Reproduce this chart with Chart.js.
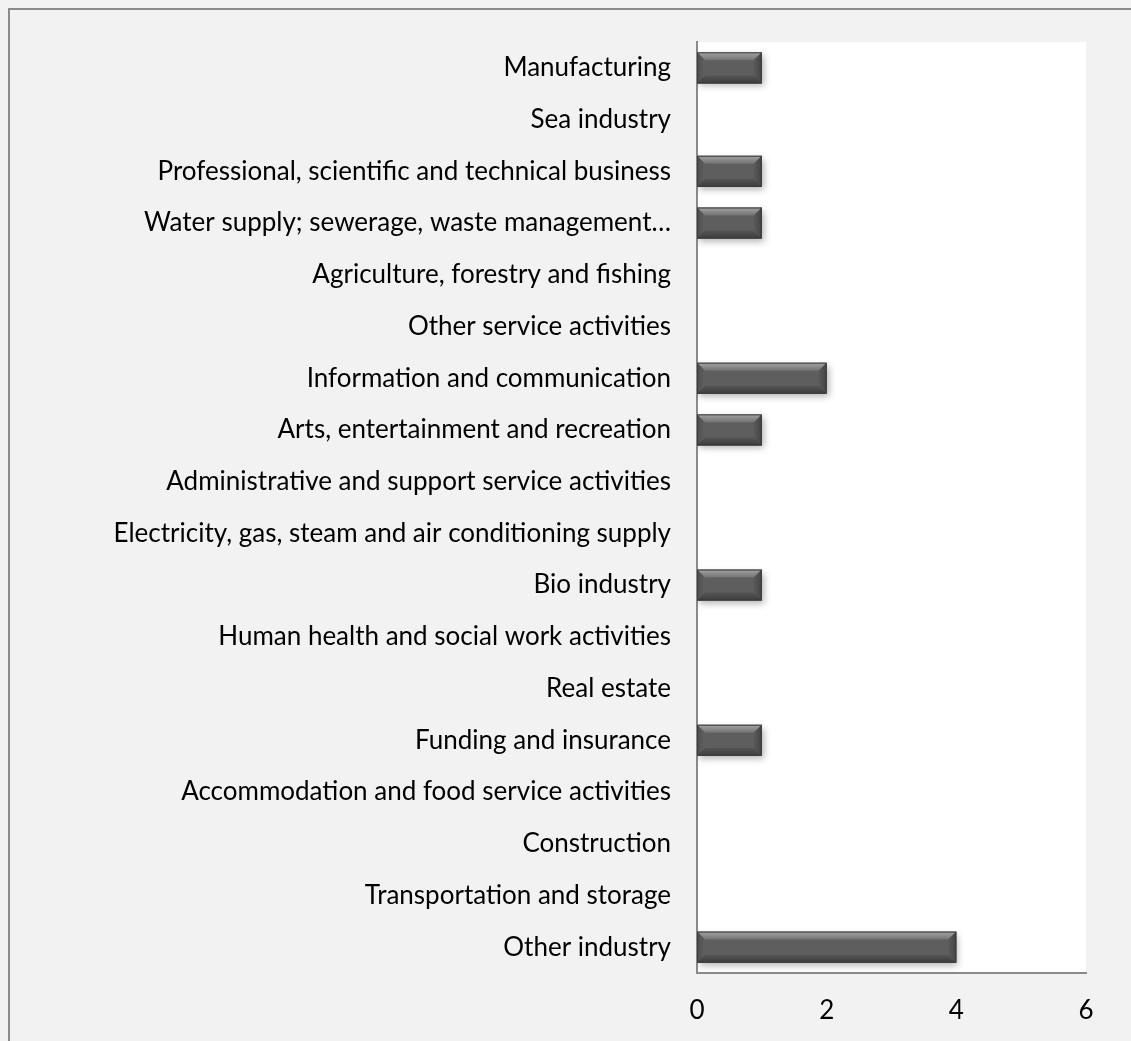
<!DOCTYPE html>
<html>
<head>
<meta charset="utf-8">
<script src="https://cdn.jsdelivr.net/npm/chart.js@4.4.1/dist/chart.umd.min.js"></script>
<style>
  html, body { margin: 0; padding: 0; background: #f2f2f2; }
  #wrap { width: 1131px; height: 1041px; }
</style>
</head>
<body>
<div id="wrap"><canvas id="chart" width="1131" height="1041"></canvas></div>
<script>
const industries = [
  "Manufacturing",
  "Sea industry",
  "Professional, scientific and technical business",
  "Water supply; sewerage, waste management\u2026",
  "Agriculture, forestry and fishing",
  "Other service activities",
  "Information and communication",
  "Arts, entertainment and recreation",
  "Administrative and support service activities",
  "Electricity, gas, steam and air conditioning supply",
  "Bio industry",
  "Human health and social work activities",
  "Real estate",
  "Funding and insurance",
  "Accommodation and food service activities",
  "Construction",
  "Transportation and storage",
  "Other industry"
];
const counts = [1, 0, 1, 1, 0, 0, 2, 1, 0, 0, 1, 0, 0, 1, 0, 0, 0, 4];
const xTicks = [0, 2, 4, 6];

const FONT = "Lato, 'Open Sans', sans-serif";

// grey page, white plot area and the outer frame line
const backdrop = {
  id: "backdrop",
  beforeDraw(chart) {
    const { ctx, chartArea: a, width, height } = chart;
    ctx.save();
    ctx.fillStyle = "#f2f2f2";
    ctx.fillRect(0, 0, width, height);
    ctx.fillStyle = "#ffffff";
    ctx.fillRect(a.left, a.top, a.right - a.left, a.bottom - a.top);
    ctx.strokeStyle = "#8a8a8a";
    ctx.lineWidth = 2;
    ctx.beginPath();
    ctx.moveTo(9, height);
    ctx.lineTo(9, 9);
    ctx.lineTo(width, 9);
    ctx.stroke();
    ctx.restore();
  }
};

// soft drop shadow under the bars
const barShadow = {
  id: "barShadow",
  beforeDatasetDraw(chart) {
    const ctx = chart.ctx;
    ctx.save();
    ctx.shadowColor = "rgba(0,0,0,0.3)";
    ctx.shadowBlur = 7;
    ctx.shadowOffsetX = 2;
    ctx.shadowOffsetY = 3;
  },
  afterDatasetDraw(chart) {
    chart.ctx.restore();
  }
};

// bevelled edges like the office "bevel" bar style
const bevel = {
  id: "bevel",
  afterDatasetsDraw(chart) {
    const ctx = chart.ctx;
    const meta = chart.getDatasetMeta(0);
    meta.data.forEach((bar) => {
      const p = bar.getProps(["x", "y", "base", "height"], true);
      const x0 = Math.min(p.base, p.x), x1 = Math.max(p.base, p.x);
      if (x1 - x0 < 1) return;
      const y0 = p.y - p.height / 2, y1 = p.y + p.height / 2;
      const b = Math.min(8, (x1 - x0) / 2, p.height / 2);
      const poly = (pts, fill) => {
        ctx.beginPath();
        ctx.moveTo(pts[0][0], pts[0][1]);
        for (let i = 1; i < pts.length; i++) ctx.lineTo(pts[i][0], pts[i][1]);
        ctx.closePath();
        ctx.fillStyle = fill;
        ctx.fill();
      };
      ctx.save();
      const gTop = ctx.createLinearGradient(0, y0, 0, y0 + b);
      gTop.addColorStop(0, "#a4a4a4");
      gTop.addColorStop(1, "#727272");
      poly([[x0, y0], [x1, y0], [x1 - b, y0 + b], [x0 + b, y0 + b]], gTop);
      const gLeft = ctx.createLinearGradient(x0, 0, x0 + b, 0);
      gLeft.addColorStop(0, "#4e4e4e");
      gLeft.addColorStop(1, "#606060");
      poly([[x0, y0], [x0 + b, y0 + b], [x0 + b, y1 - b], [x0, y1]], gLeft);
      const gRight = ctx.createLinearGradient(x1 - b, 0, x1, 0);
      gRight.addColorStop(0, "#5a5a5a");
      gRight.addColorStop(1, "#444444");
      poly([[x1, y0], [x1, y1], [x1 - b, y1 - b], [x1 - b, y0 + b]], gRight);
      const gBot = ctx.createLinearGradient(0, y1 - b, 0, y1);
      gBot.addColorStop(0, "#555555");
      gBot.addColorStop(1, "#3c3c3c");
      poly([[x0, y1], [x0 + b, y1 - b], [x1 - b, y1 - b], [x1, y1]], gBot);
      ctx.strokeStyle = "#3a3a3a";
      ctx.lineWidth = 1;
      ctx.strokeRect(x0 + 0.5, y0 + 0.5, x1 - x0 - 1, y1 - y0 - 1);
      ctx.restore();
    });
  }
};

new Chart(document.getElementById("chart"), {
  type: "bar",
  data: {
    labels: industries,
    datasets: [{
      data: counts,
      backgroundColor: "#5e5e5e",
      borderWidth: 0,
      barPercentage: 0.6,
      categoryPercentage: 1.0
    }]
  },
  options: {
    indexAxis: "y",
    responsive: false,
    animation: false,
    layout: { padding: { top: 42, right: 45, left: 0, bottom: 0 } },
    plugins: {
      legend: { display: false },
      tooltip: { enabled: false }
    },
    scales: {
      x: {
        min: 0,
        max: 6,
        afterBuildTicks(axis) {
          axis.ticks = xTicks.map((v) => ({ value: v }));
        },
        afterFit(axis) { axis.height = 68; },
        grid: { display: false, drawTicks: false },
        border: { display: true, color: "#8a8a8a", width: 2 },
        ticks: {
          color: "#000000",
          padding: 22,
          font: { family: FONT, size: 26 }
        }
      },
      y: {
        afterFit(axis) { axis.width = 697; },
        grid: { display: false, drawTicks: false },
        border: { display: true, color: "#8a8a8a", width: 2 },
        ticks: {
          color: "#000000",
          padding: 26,
          autoSkip: false,
          font: { family: FONT, size: 26 }
        }
      }
    }
  },
  plugins: [backdrop, barShadow, bevel]
});
</script>
</body>
</html>
